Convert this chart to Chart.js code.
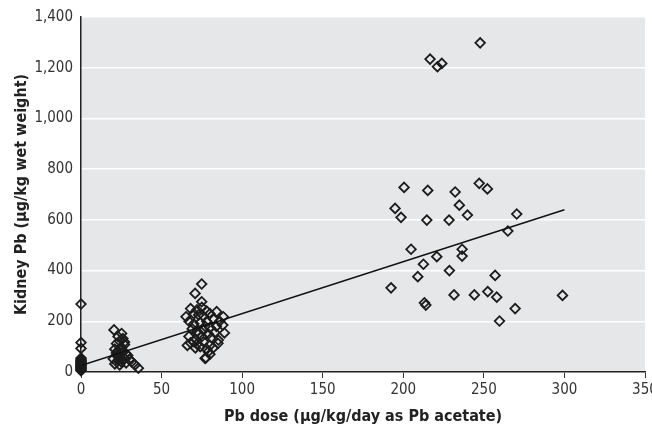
<!DOCTYPE html>
<html>
<head>
<meta charset="utf-8">
<script src="https://cdn.jsdelivr.net/npm/chart.js@4"></script>
<style>
  html, body { margin: 0; padding: 0; background: #fff; }
  #wrap { width: 652px; height: 428px; }
</style>
</head>
<body>
<div id="wrap"><canvas id="chart" width="652" height="428"></canvas></div>
<script>
// Pb dose (ug/kg/day) and kidney Pb (ug/kg wet weight)
const doseX = [
  0, 0, 0, 0, 0, 0, 0, 0, 0, 0, 0, 0, 0, 0, 0, 0, 0, 0,
  20.5, 25.2, 23, 26, 24, 22, 27, 25, 21, 23, 26, 28, 22, 24, 27, 20, 23, 25, 28, 21, 24, 26, 29, 30, 31.5, 33.5, 35.6, 22, 25, 27,
  74.9, 70.8, 74.9, 65.2, 84.2, 88.3, 88, 85.2, 77.6, 79, 77, 85, 89,
  68, 72, 75, 78, 70, 73, 76, 80, 67, 70, 74, 78, 82, 69, 72, 76, 80, 84, 67, 71, 75, 79, 83, 68, 72, 76, 80, 74, 78, 70, 86, 81, 77, 73, 66, 71, 82, 80,
  247.7, 216.6, 221.2, 223.9,
  200.5, 215.2, 232.2, 247.1, 252.2, 194.9, 198.6, 214.6, 228.4, 234.8, 239.8, 270.4, 264.9, 204.8, 220.8, 236.5, 236.5,
  212.5, 209, 228.6, 257, 192.4, 231.5, 244.1, 252.4, 258, 213.1, 214, 269.4, 259.7, 298.8
];
const kidneyPb = [
  268, 116, 93, 55, 50, 45, 42, 38, 35, 32, 28, 25, 22, 18, 15, 12, 8, 5,
  166, 152, 140, 132, 122, 112, 108, 98, 90, 84, 78, 72, 66, 60, 55, 52, 46, 40, 36, 32, 28, 45, 65, 50, 40, 28, 15, 75, 88, 118,
  347, 310, 277, 218, 238, 218, 185, 126, 56, 80, 54, 113, 154,
  250, 245, 255, 240, 230, 225, 220, 230, 200, 190, 195, 200, 210, 170, 160, 165, 175, 180, 140, 130, 140, 150, 155, 115, 110, 120, 105, 100, 90, 120, 200, 135, 180, 150, 105, 95, 95, 70,
  1298, 1234, 1204, 1217,
  728, 716, 710, 744, 722, 645, 610, 599, 599, 658, 619, 623, 556, 484, 455, 484, 457,
  425, 376, 400, 381, 332, 304, 304, 317, 295, 273, 264, 250, 201, 302
];
// regression line end points
const fitX = [0, 300];
const fitY = [25, 640];

const yTicks = [0, 200, 400, 600, 800, 1000, 1200, 1400];

const points = doseX.map((x, i) => ({ x: x, y: kidneyPb[i] }));
const fitLine = fitX.map((x, i) => ({ x: x, y: fitY[i] }));

const FONT = '"Liberation Sans Narrow", "DejaVu Sans Condensed", "Roboto", sans-serif';

// grey plot background
const plotBg = {
  id: 'plotBg',
  beforeDraw(chart) {
    const { ctx, chartArea: a } = chart;
    ctx.save();
    ctx.fillStyle = '#e6e7e8';
    ctx.fillRect(a.left, a.top, a.right - a.left, a.bottom - a.top);
    ctx.restore();
  }
};

new Chart(document.getElementById('chart'), {
  type: 'scatter',
  data: {
    datasets: [
      {
        data: points,
        pointStyle: 'rectRot',
        pointRadius: 4.8,
        backgroundColor: 'rgba(0,0,0,0)',
        borderColor: '#1c1c1c',
        borderWidth: 1.8,
        clip: false,
        order: 1
      },
      {
        type: 'line',
        data: fitLine,
        borderColor: '#111',
        borderWidth: 1.5,
        pointRadius: 0,
        fill: false,
        order: 0
      }
    ]
  },
  options: {
    responsive: false,
    animation: false,
    layout: { padding: { top: 17, right: 7, left: 0, bottom: 0 } },
    plugins: { legend: { display: false }, tooltip: { enabled: false } },
    scales: {
      x: {
        type: 'linear',
        min: 0,
        max: 350,
        ticks: {
          stepSize: 50,
          padding: 3,
          color: '#333',
          font: { family: FONT, size: 15 }
        },
        grid: { drawOnChartArea: false, tickColor: '#333', tickLength: 6, tickWidth: 1 },
        border: { color: '#222', width: 1.5 },
        title: {
          display: true,
          text: 'Pb dose (\u03bcg/kg/day as Pb acetate)',
          color: '#222',
          font: { family: FONT, size: 16, weight: 'bold' },
          padding: { top: 0, bottom: 2 }
        },
        afterFit(s) { s.height = 56; s.paddingRight = 0; s.paddingLeft = 0; }
      },
      y: {
        min: 0,
        max: 1400,
        afterBuildTicks(s) { s.ticks = yTicks.map(v => ({ value: v })); },
        ticks: {
          padding: 8,
          color: '#333',
          font: { family: FONT, size: 15 },
          callback: v => v.toLocaleString('en-US')
        },
        grid: { color: '#ffffff', lineWidth: 1.5, drawTicks: false },
        border: { color: '#222', width: 1.5 },
        title: {
          display: true,
          text: 'Kidney Pb (\u03bcg/kg wet weight)',
          color: '#222',
          font: { family: FONT, size: 16, weight: 'bold' },
          padding: { top: 12, bottom: 0 }
        },
        afterFit(s) { s.width = 81; s.paddingTop = 0; s.paddingBottom = 0; }
      }
    }
  },
  plugins: [plotBg]
});
</script>
</body>
</html>
